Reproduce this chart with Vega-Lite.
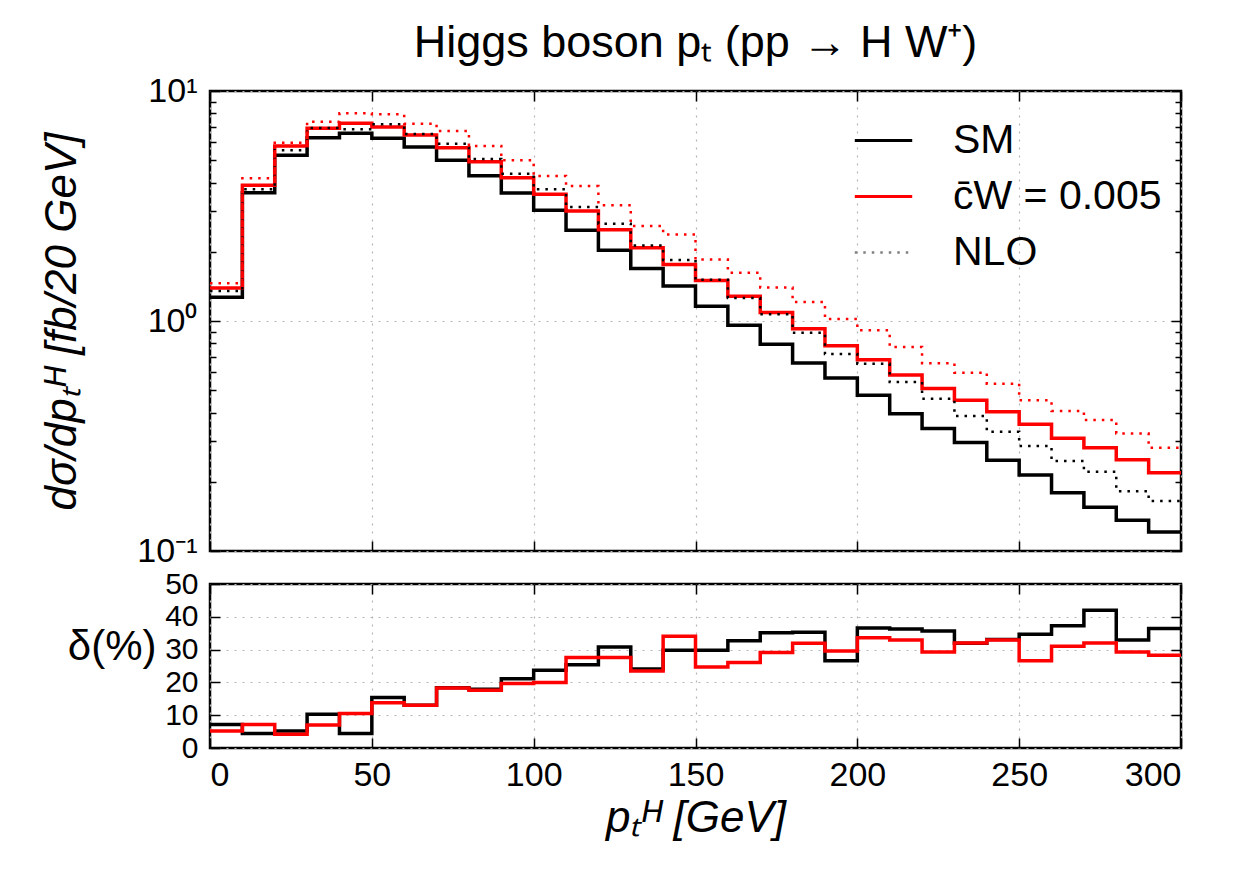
{
  "$schema": "https://vega.github.io/schema/vega-lite/v6.json",
  "background": "white",
  "padding": {"left": 39, "top": 19, "right": 10, "bottom": 10},
  "config": {
    "font": "Liberation Sans",
    "view": {"stroke": "black", "strokeWidth": 2.5},
    "axis": {
      "domain": false,
      "labelFont": "Liberation Sans",
      "labelFontSize": 34,
      "labelColor": "black",
      "labelOverlap": false,
      "tickColor": "black",
      "tickWidth": 1.5,
      "gridColor": "#b5b5b5",
      "gridDash": [2, 6],
      "gridWidth": 1.2,
      "titleColor": "black",
      "titleFont": "Liberation Sans",
      "titleFontWeight": "normal"
    }
  },
  "datasets": {
    "h": [
      {"pT": 0, "model": "SM", "LO": 1.27, "NLO": 1.35, "delta": 7.2},
      {"pT": 10, "model": "SM", "LO": 3.61, "NLO": 3.74, "delta": 4.4},
      {"pT": 20, "model": "SM", "LO": 5.25, "NLO": 5.52, "delta": 5.2},
      {"pT": 30, "model": "SM", "LO": 6.27, "NLO": 6.9, "delta": 10.3},
      {"pT": 40, "model": "SM", "LO": 6.55, "NLO": 6.82, "delta": 4.4},
      {"pT": 50, "model": "SM", "LO": 6.23, "NLO": 7.17, "delta": 15.4},
      {"pT": 60, "model": "SM", "LO": 5.71, "NLO": 6.5, "delta": 13.0},
      {"pT": 70, "model": "SM", "LO": 5.0, "NLO": 5.9, "delta": 18.4},
      {"pT": 80, "model": "SM", "LO": 4.28, "NLO": 5.06, "delta": 17.9},
      {"pT": 90, "model": "SM", "LO": 3.6, "NLO": 4.37, "delta": 21.1},
      {"pT": 100, "model": "SM", "LO": 3.03, "NLO": 3.74, "delta": 23.7},
      {"pT": 110, "model": "SM", "LO": 2.48, "NLO": 3.13, "delta": 25.4},
      {"pT": 120, "model": "SM", "LO": 2.03, "NLO": 2.65, "delta": 30.8},
      {"pT": 130, "model": "SM", "LO": 1.69, "NLO": 2.13, "delta": 24.1},
      {"pT": 140, "model": "SM", "LO": 1.42, "NLO": 1.84, "delta": 29.8},
      {"pT": 150, "model": "SM", "LO": 1.16, "NLO": 1.51, "delta": 29.8},
      {"pT": 160, "model": "SM", "LO": 0.958, "NLO": 1.26, "delta": 32.7},
      {"pT": 170, "model": "SM", "LO": 0.792, "NLO": 1.07, "delta": 35.1},
      {"pT": 180, "model": "SM", "LO": 0.657, "NLO": 0.889, "delta": 35.3},
      {"pT": 190, "model": "SM", "LO": 0.565, "NLO": 0.719, "delta": 26.6},
      {"pT": 200, "model": "SM", "LO": 0.475, "NLO": 0.652, "delta": 36.6},
      {"pT": 210, "model": "SM", "LO": 0.395, "NLO": 0.543, "delta": 36.3},
      {"pT": 220, "model": "SM", "LO": 0.341, "NLO": 0.459, "delta": 35.7},
      {"pT": 230, "model": "SM", "LO": 0.296, "NLO": 0.386, "delta": 31.9},
      {"pT": 240, "model": "SM", "LO": 0.248, "NLO": 0.33, "delta": 33.1},
      {"pT": 250, "model": "SM", "LO": 0.214, "NLO": 0.286, "delta": 34.7},
      {"pT": 260, "model": "SM", "LO": 0.179, "NLO": 0.246, "delta": 37.3},
      {"pT": 270, "model": "SM", "LO": 0.155, "NLO": 0.221, "delta": 42.0},
      {"pT": 280, "model": "SM", "LO": 0.136, "NLO": 0.182, "delta": 32.9},
      {"pT": 290, "model": "SM", "LO": 0.121, "NLO": 0.165, "delta": 36.4},
      {"pT": 300, "model": "SM", "LO": 0.121, "NLO": 0.165, "delta": 36.4},
      {"pT": 0, "model": "c̄W = 0.005", "LO": 1.39, "NLO": 1.46, "delta": 5.2},
      {"pT": 10, "model": "c̄W = 0.005", "LO": 3.89, "NLO": 4.17, "delta": 7.2},
      {"pT": 20, "model": "c̄W = 0.005", "LO": 5.77, "NLO": 5.96, "delta": 4.2},
      {"pT": 30, "model": "c̄W = 0.005", "LO": 6.88, "NLO": 7.35, "delta": 7.0},
      {"pT": 40, "model": "c̄W = 0.005", "LO": 7.24, "NLO": 8.0, "delta": 10.5},
      {"pT": 50, "model": "c̄W = 0.005", "LO": 6.97, "NLO": 7.92, "delta": 13.8},
      {"pT": 60, "model": "c̄W = 0.005", "LO": 6.44, "NLO": 7.21, "delta": 13.0},
      {"pT": 70, "model": "c̄W = 0.005", "LO": 5.67, "NLO": 6.7, "delta": 18.3},
      {"pT": 80, "model": "c̄W = 0.005", "LO": 4.93, "NLO": 5.77, "delta": 17.6},
      {"pT": 90, "model": "c̄W = 0.005", "LO": 4.2, "NLO": 5.0, "delta": 19.7},
      {"pT": 100, "model": "c̄W = 0.005", "LO": 3.56, "NLO": 4.27, "delta": 20.0},
      {"pT": 110, "model": "c̄W = 0.005", "LO": 3.01, "NLO": 3.86, "delta": 27.6},
      {"pT": 120, "model": "c̄W = 0.005", "LO": 2.49, "NLO": 3.19, "delta": 27.6},
      {"pT": 130, "model": "c̄W = 0.005", "LO": 2.08, "NLO": 2.59, "delta": 23.5},
      {"pT": 140, "model": "c̄W = 0.005", "LO": 1.76, "NLO": 2.38, "delta": 34.1},
      {"pT": 150, "model": "c̄W = 0.005", "LO": 1.5, "NLO": 1.85, "delta": 24.7},
      {"pT": 160, "model": "c̄W = 0.005", "LO": 1.28, "NLO": 1.62, "delta": 26.1},
      {"pT": 170, "model": "c̄W = 0.005", "LO": 1.09, "NLO": 1.4, "delta": 29.1},
      {"pT": 180, "model": "c̄W = 0.005", "LO": 0.926, "NLO": 1.21, "delta": 31.9},
      {"pT": 190, "model": "c̄W = 0.005", "LO": 0.781, "NLO": 1.02, "delta": 29.6},
      {"pT": 200, "model": "c̄W = 0.005", "LO": 0.679, "NLO": 0.911, "delta": 33.6},
      {"pT": 210, "model": "c̄W = 0.005", "LO": 0.582, "NLO": 0.771, "delta": 32.9},
      {"pT": 220, "model": "c̄W = 0.005", "LO": 0.509, "NLO": 0.655, "delta": 29.3},
      {"pT": 230, "model": "c̄W = 0.005", "LO": 0.452, "NLO": 0.596, "delta": 32.0},
      {"pT": 240, "model": "c̄W = 0.005", "LO": 0.403, "NLO": 0.534, "delta": 32.9},
      {"pT": 250, "model": "c̄W = 0.005", "LO": 0.356, "NLO": 0.452, "delta": 26.6},
      {"pT": 260, "model": "c̄W = 0.005", "LO": 0.309, "NLO": 0.406, "delta": 31.0},
      {"pT": 270, "model": "c̄W = 0.005", "LO": 0.281, "NLO": 0.371, "delta": 32.0},
      {"pT": 280, "model": "c̄W = 0.005", "LO": 0.249, "NLO": 0.324, "delta": 29.3},
      {"pT": 290, "model": "c̄W = 0.005", "LO": 0.219, "NLO": 0.281, "delta": 28.3},
      {"pT": 300, "model": "c̄W = 0.005", "LO": 0.219, "NLO": 0.281, "delta": 28.3}
    ]
  },
  "resolve": {"scale": {"x": "independent", "y": "independent", "color": "independent"}},
  "bounds": "flush",
  "spacing": 33,
  "vconcat": [
    {
      "width": 971,
      "height": 460,
      "title": {"text": "Higgs boson pₜ (pp → H W⁺)", "fontSize": 45, "fontWeight": "normal", "color": "black", "offset": 8, "anchor": "middle", "frame": "group"},
      "data": {"name": "h"},
      "resolve": {"axis": {"x": "independent", "y": "independent"}},
      "layer": [
        {
          "mark": {"type": "line", "interpolate": "step-after", "strokeWidth": 3.5},
          "encoding": {
            "x": {"field": "pT", "type": "quantitative", "scale": {"domain": [0, 300], "nice": false, "zero": false},
                  "axis": {"orient": "bottom", "values": [0, 50, 100, 150, 200, 250, 300], "labels": false, "tickSize": -10, "grid": true, "title": null}},
            "y": {"field": "LO", "type": "quantitative", "scale": {"type": "log", "domain": [0.1, 10], "nice": false},
                  "axis": {"orient": "left", "values": [0.1, 1, 10], "labelExpr": "datum.value < 0.5 ? '10⁻¹' : (datum.value < 5 ? '10⁰' : '10¹')", "tickSize": -10, "labelPadding": 23, "grid": true, "title": "dσ/dpₜᴴ [fb/20 GeV]", "titleFontSize": 44, "titleFontStyle": "italic", "titlePadding": 52}},
            "color": {"field": "model", "type": "nominal",
                      "scale": {"domain": ["SM", "c̄W = 0.005", "NLO"], "range": ["#000000", "#ff0000", "#808080"]},
                      "legend": {"orient": "none", "legendX": 653, "legendY": 29, "title": null, "labelFontSize": 41, "labelFont": "Liberation Sans", "labelColor": "black", "labelLimit": 500, "symbolType": "stroke", "symbolSize": 3300, "symbolStrokeWidth": 3, "symbolOpacity": 1, "labelOffset": 49, "rowPadding": 14,
                                 "encode": {"symbols": {"update": {"strokeDash": {"signal": "datum.value === 'NLO' ? [2.5, 6] : [1, 0]"}, "strokeWidth": {"signal": "datum.value === 'NLO' ? 2.5 : 3"}}}}}}
          }
        },
        {
          "mark": {"type": "line", "interpolate": "step-after", "strokeWidth": 2.5, "strokeDash": [2.5, 6]},
          "encoding": {
            "x": {"field": "pT", "type": "quantitative", "axis": null},
            "y": {"field": "NLO", "type": "quantitative", "axis": null},
            "color": {"field": "model", "type": "nominal", "legend": null}
          }
        },
        {
          "mark": {"type": "point", "opacity": 0},
          "encoding": {
            "x": {"field": "pT", "type": "quantitative", "axis": {"orient": "top", "values": [0, 50, 100, 150, 200, 250, 300], "labels": false, "tickSize": -10, "grid": false, "title": null}},
            "y": {"field": "LO", "type": "quantitative", "axis": {"orient": "right", "values": [0.1, 1, 10], "labels": false, "tickSize": -10, "grid": false, "title": null}}
          }
        },
        {
          "mark": {"type": "point", "opacity": 0},
          "encoding": {
            "x": {"field": "pT", "type": "quantitative", "axis": null},
            "y": {"field": "LO", "type": "quantitative", "axis": {"orient": "left", "values": [0.2, 0.3, 0.4, 0.5, 0.6, 0.7, 0.8, 0.9, 2, 3, 4, 5, 6, 7, 8, 9], "labels": false, "tickSize": -6, "grid": false, "title": null}}
          }
        },
        {
          "mark": {"type": "point", "opacity": 0},
          "encoding": {
            "x": {"field": "pT", "type": "quantitative", "axis": null},
            "y": {"field": "LO", "type": "quantitative", "axis": {"orient": "right", "values": [0.2, 0.3, 0.4, 0.5, 0.6, 0.7, 0.8, 0.9, 2, 3, 4, 5, 6, 7, 8, 9], "labels": false, "tickSize": -6, "grid": false, "title": null}}
          }
        }
      ]
    },
    {
      "width": 971,
      "height": 164,
      "data": {"name": "h"},
      "resolve": {"axis": {"x": "independent", "y": "independent"}},
      "layer": [
        {
          "mark": {"type": "line", "interpolate": "step-after", "strokeWidth": 3.5},
          "encoding": {
            "x": {"field": "pT", "type": "quantitative", "scale": {"domain": [0, 300], "nice": false, "zero": false},
                  "axis": {"orient": "bottom", "values": [0, 50, 100, 150, 200, 250, 300], "tickSize": -10, "labelPadding": 20, "grid": true, "title": "pₜᴴ [GeV]", "titleFontSize": 44, "titleFontStyle": "italic", "titlePadding": 4}},
            "y": {"field": "delta", "type": "quantitative", "scale": {"domain": [0, 50], "nice": false},
                  "axis": {"orient": "left", "values": [0, 10, 20, 30, 40, 50], "labelFontSize": 30, "tickSize": -10, "labelPadding": 22, "grid": true, "title": "δ(%)", "titleAngle": 0, "titleAlign": "right", "titleBaseline": "middle", "titleX": -54, "titleY": 62, "titleFontSize": 42}},
            "color": {"field": "model", "type": "nominal", "scale": {"domain": ["SM", "c̄W = 0.005", "NLO"], "range": ["#000000", "#ff0000", "#808080"]}, "legend": null}
          }
        },
        {
          "mark": {"type": "point", "opacity": 0},
          "encoding": {
            "x": {"field": "pT", "type": "quantitative", "axis": {"orient": "top", "values": [0, 50, 100, 150, 200, 250, 300], "labels": false, "tickSize": -10, "grid": false, "title": null}},
            "y": {"field": "delta", "type": "quantitative", "axis": {"orient": "right", "values": [10, 20, 30, 40], "labels": false, "tickSize": -10, "grid": false, "title": null}}
          }
        }
      ]
    }
  ]
}
